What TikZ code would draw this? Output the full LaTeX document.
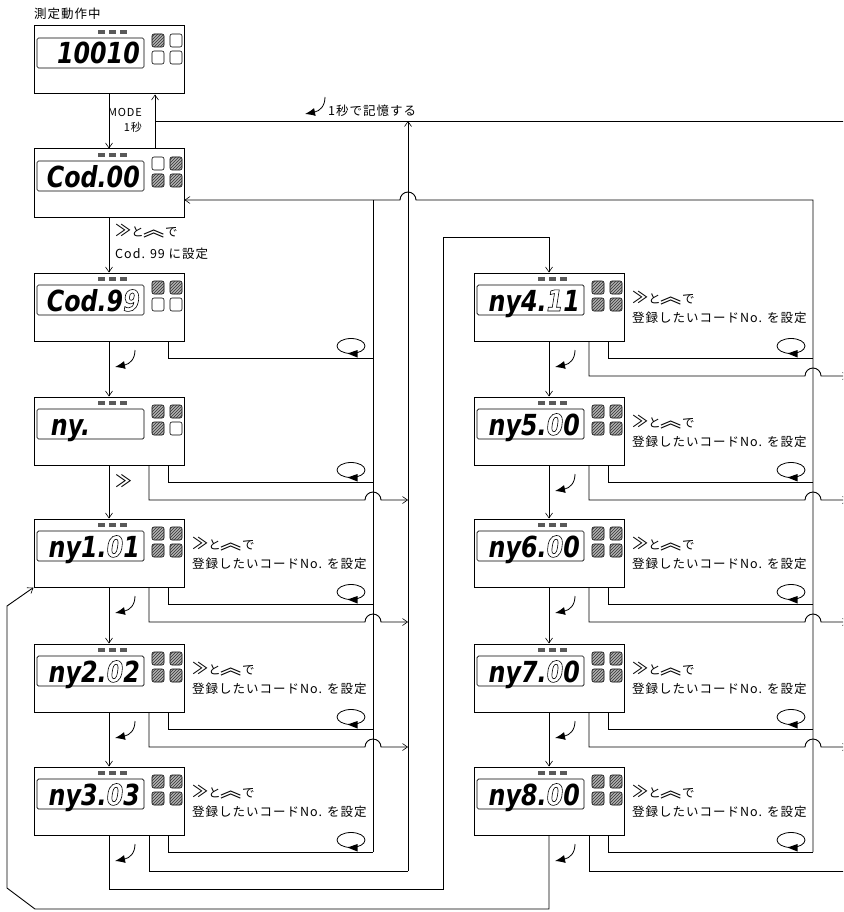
\documentclass[tikz,border=0pt]{standalone}
\usepackage{fontspec}
\usetikzlibrary{arrows.meta,patterns,calc}
\newfontfamily\jp{Noto Sans CJK JP}[LetterSpace=8]
\newfontfamily\segfont{DejaVu Sans}[FakeStretch=0.82]
\newcommand\hol[1]{\special{pdf:literal direct 1 Tr 0.6 w}#1\special{pdf:literal direct 0 Tr}}
\newcommand\symA{\scalebox{1.3}{≫}}
\newcommand\symB{\scalebox{1.7}[1.5]{︽}}
\tikzset{
  ln/.style={line width=0.9pt},
  arr/.style={-{Straight Barb[length=5pt,width=7pt,line width=0.6pt]}},
  panel/.style={draw,line width=1pt,rectangle,minimum width=150pt,minimum height=68pt,inner sep=0pt},
  win/.style={draw,line width=0.7pt,rounded corners=1.5pt},
  ind/.style={fill=black!65},
  btn/.style={draw,line width=0.6pt,rounded corners=2pt},
  hb/.style={fill=black!30,postaction={pattern=north east lines,pattern color=black!80}},
  wb/.style={fill=white},
  disp/.style={anchor=base east,inner sep=0pt,font=\segfont\bfseries\itshape\fontsize{29}{29}\selectfont},
  lbl/.style={anchor=base west,inner sep=0pt,font=\jp\fontsize{12.5}{12.5}\selectfont},
  loopsym/.style={line width=0.8pt},
  curv/.style={line width=0.8pt,-{Latex[length=10pt,width=8pt]}},
}
\newcommand\decor[7]{%
  \draw[win] (#1+3,#2+12) rectangle (#1+110,#2+42);
  \fill[ind] (#1+64,#2+4) rectangle ++(7,4);
  \fill[ind] (#1+75,#2+4) rectangle ++(7,4);
  \fill[ind] (#1+86,#2+4) rectangle ++(7,4);
  \draw[btn,#4] (#1+118,#2+8) rectangle ++(12,13);
  \draw[btn,#5] (#1+136,#2+8) rectangle ++(12,13);
  \draw[btn,#6] (#1+118,#2+25) rectangle ++(12,13);
  \draw[btn,#7] (#1+136,#2+25) rectangle ++(12,13);
  \node[disp] at (#1+106,#2+38) {#3};
}
\newcommand\curvsym[2]{\draw[curv] (#1+20,#2) .. controls (#1+20,#2+9) and (#1+15,#2+14) .. (#1,#2+17);}
\newcommand\loopmark[2]{%
  \draw[loopsym] (#1,#2) ellipse [x radius=14pt, y radius=7.5pt];
  \fill (#1-3.5,#2+7.5) -- (#1+6.5,#2+4) -- (#1+6.5,#2+11.5) -- cycle;}
\begin{document}
\begin{tikzpicture}[x=1pt,y=-1pt]
\clip (0,0) rectangle (843,912);
\fill[white] (0,0) rectangle (843,912);
% panels
\node[panel] (b1) at (109,60) {};
\node[panel] (b2) at (109,183) {};
\node[panel] (b3) at (109,307) {};
\node[panel] (b4) at (109,431) {};
\node[panel] (b5) at (109,553) {};
\node[panel] (b6) at (109,678) {};
\node[panel] (b7) at (109,801) {};
\node[panel] (c1) at (549,307) {};
\node[panel] (c2) at (549,431) {};
\node[panel] (c3) at (549,553) {};
\node[panel] (c4) at (549,678) {};
\node[panel] (c5) at (549,801) {};
\decor{34}{26}{10010}{hb}{wb}{wb}{wb}
\decor{34}{149}{Cod.00}{wb}{hb}{hb}{hb}
\decor{34}{273}{Cod.9\hol{9}}{hb}{hb}{wb}{wb}
\decor{34}{397}{ny.\phantom{101}}{hb}{hb}{hb}{wb}
\decor{34}{519}{ny1.\hol{0}1}{hb}{hb}{hb}{hb}
\decor{34}{644}{ny2.\hol{0}2}{hb}{hb}{hb}{hb}
\decor{34}{767}{ny3.\hol{0}3}{hb}{hb}{hb}{hb}
\decor{474}{273}{ny4.\hol{1}1}{hb}{hb}{hb}{hb}
\decor{474}{397}{ny5.\hol{0}0}{hb}{hb}{hb}{hb}
\decor{474}{519}{ny6.\hol{0}0}{hb}{hb}{hb}{hb}
\decor{474}{644}{ny7.\hol{0}0}{hb}{hb}{hb}{hb}
\decor{474}{767}{ny8.\hol{0}0}{hb}{hb}{hb}{hb}
% main chain
\draw[ln,arr] (b1.south) -- (b2.north);
\draw[ln,arr] (b2.north -| 155,0) -- (b1.south -| 155,0);
\draw[ln] (155,121) -- (848,121);
\draw[ln,arr] (b2.south) -- (b3.north);
\draw[ln,arr] (b3.south) -- (b4.north);
\draw[ln,arr] (b4.south) -- (b5.north);
\draw[ln,arr] (b5.south) -- (b6.north);
\draw[ln,arr] (b6.south) -- (b7.north);
\draw[ln,arr] (b7.south) |- (443,889) |- (549,237) -- (c1.north);
\draw[ln,arr] (c1.south) -- (c2.north);
\draw[ln,arr] (c2.south) -- (c3.north);
\draw[ln,arr] (c3.south) -- (c4.north);
\draw[ln,arr] (c4.south) -- (c5.north);
\draw[ln,arr] (c5.south) -- (549,909) -- (35,909) -- (7,888) -- (7,606) -- (b5.south west);
% return and memory lines
\draw[ln] (373,852) -- (373,200);
\draw[ln,arr] (408,871) -- (408,121);
\draw[ln,arr] (813,852) -- (813,200) -- (416,200) arc[start angle=0,end angle=180,radius=8pt] -- (b2.east |- 0,200);
% left loop lines
\draw[ln] (b3.south -| 168,0) |- (373,358);
\foreach \b/\B in {b4/465,b5/587,b6/712} {
  \draw[ln] (\b.south -| 168,0) |- (373,\B+17);
  \draw[ln,arr] (\b.south -| 149,0) |- (365,\B+35) arc[start angle=180,end angle=0,radius=8pt] -- (408,\B+35);
}
\draw[ln] (b7.south -| 168,0) |- (373,852);
\draw[ln] (b7.south -| 149,0) |- (408,871);
% right loop lines
\foreach \c/\B in {c1/341,c2/465,c3/587,c4/712} {
  \draw[ln] (\c.south -| 608,0) |- (813,\B+17);
  \draw[ln,arr] (\c.south -| 589,0) |- (805,\B+35) arc[start angle=180,end angle=0,radius=8pt] -- (848,\B+35);
}
\draw[ln] (c5.south -| 608,0) |- (813,852);
\draw[ln] (c5.south -| 589,0) |- (848,871);
% loop marks
\foreach \B in {341,465,587,712,835} {
  \loopmark{351}{\B+5}
  \loopmark{791}{\B+5}
  \curvsym{555}{\B+9}
}
\foreach \B in {341,587,712,835} {\curvsym{115}{\B+9}}
\curvsym{305}{97}
% texts
\node[lbl] (tmain) at (34,19) {測定動作中};
\node[lbl,anchor=base east,font=\jp\fontsize{11}{11}\selectfont] (tmode) at (142,117) {MODE};
\node[lbl,anchor=base east,font=\jp\fontsize{11}{11}\selectfont] (tsec) at (142,132) {1秒};
\node[lbl] (tmem) at (328,116) {1秒で記憶する};
\node[lbl] (tc1) at (115,236) {\symA と\symB で};
\node[lbl] (tc2) at (115,258) {Cod. 99 に設定};
\node[lbl,font=\jp\fontsize{17}{17}\selectfont] (tnext) at (115,487) {≫};
\foreach \x/\t [count=\i] in {192/519,192/644,192/767,632/273,632/397,632/519,632/644,632/767} {
  \node[lbl] (ta\i) at (\x,\t+30) {\symA と\symB で};
  \node[lbl] (tb\i) at (\x,\t+49) {登録したいコードNo. を設定};
}
\end{tikzpicture}
\end{document}
